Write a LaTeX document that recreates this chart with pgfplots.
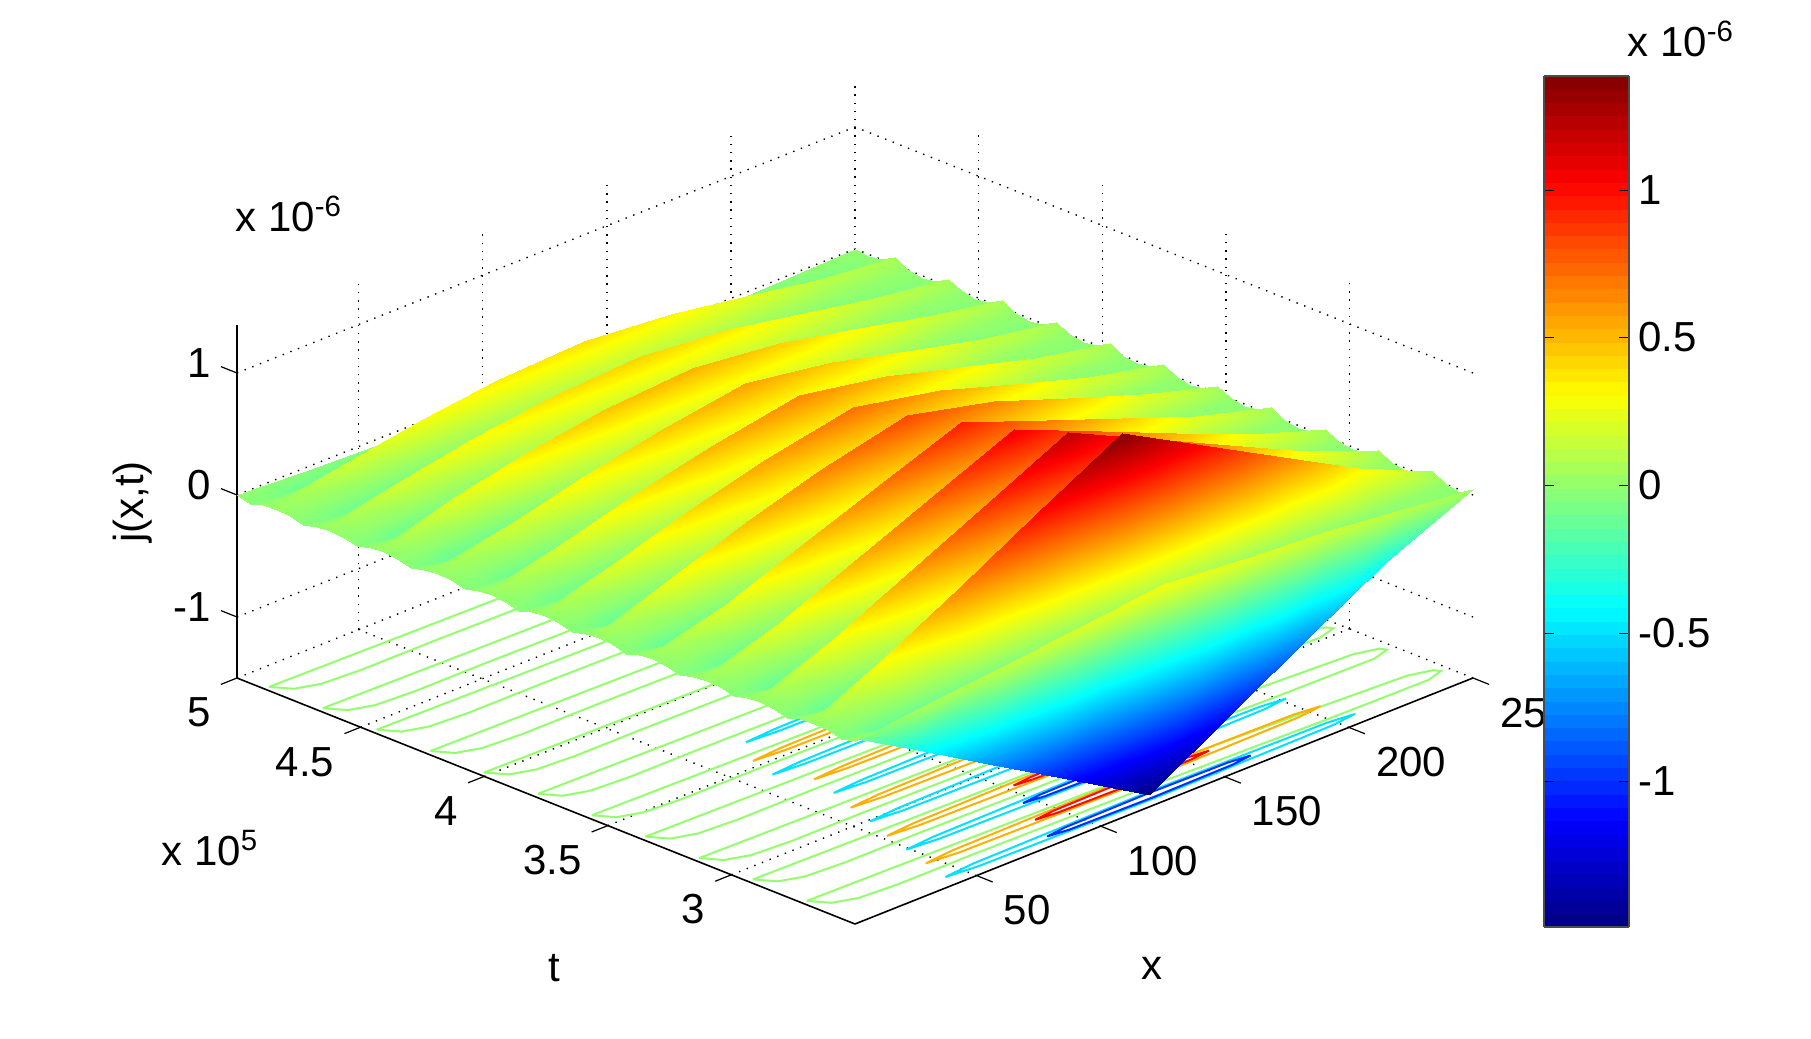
\documentclass[border=0pt]{standalone}
\usepackage{fontspec}
\setmainfont{Liberation Sans}
\usepackage{pgfplots}
\pgfplotsset{compat=1.18}

\definecolor{cz}{RGB}{147,255,108}
\definecolor{cp}{RGB}{255,176,0}
\definecolor{cr}{RGB}{255,10,0}
\definecolor{cn}{RGB}{0,226,255}
\definecolor{cb}{RGB}{0,48,255}
\tikzset{lev/.style={line width=1pt}, tk/.style={black, line width=0.6pt}}

\begin{document}
\begin{tikzpicture}
\begin{axis}[
    at={(0,0)}, anchor=south west,
    x={(1.241pt,0.494pt)}, y={(-123.6pt,49.2pt)}, z={(0pt,61pt)},
    xmin=1, xmax=250, ymin=2.5, ymax=5, zmin=-1.5, zmax=1.39,
    xtick={50,100,150,200,250},
    ytick={3,3.5,4,4.5,5},
    ztick={-1,0,1},
    scaled ticks=false,
    /pgf/number format/assume math mode=true,
    tick label style={font=\fontsize{21}{25}\selectfont},
    xticklabel style={anchor=west, xshift=5.4pt, yshift=-15.5pt},
    yticklabel style={anchor=east, xshift=-5pt, yshift=-15.5pt},
    zticklabel style={anchor=east, xshift=-5pt, yshift=3pt},
    axis line style={draw=none},
    tick style={draw=none},
    tick align=outside,
    major tick length=5pt,
    grid=major,
    grid style={black, line width=0.7pt, dash pattern=on 0.7pt off 3.4pt},
    clip=false,
    no markers,
    colormap/jet,
    point meta min=-1.495, point meta max=1.385,
    colorbar sampled,
    colorbar style={
        at={(parent axis.south east)}, anchor=south west,
        xshift=27pt, yshift=-1.5pt,
        width=42.5pt, height=425.5pt,
        samples=65,
        ytick={-1,-0.5,0,0.5,1},
        tick align=inside,
        major tick length=5pt,
        tick style={draw=black},
        ytick pos=both,
        yticklabel pos=right,
        yticklabel style={xshift=1pt},
        tick label style={font=\fontsize{21}{25}\selectfont},
        axis line style={draw=black!70, line width=0.6pt},
        /pgf/number format/assume math mode=true,
    },
]
% axis edges
\addplot3[black, line width=0.8pt, forget plot] coordinates {(1,2.5,-1.5) (250,2.5,-1.5)};
\addplot3[black, line width=0.8pt, forget plot] coordinates {(1,2.5,-1.5) (1,5,-1.5)};
\addplot3[black, line width=0.8pt, forget plot] coordinates {(1,5,-1.5) (1,5,1.39)};
% tick marks, as MATLAB turns them
\addplot3[tk] coordinates {(50,2.5,-1.5) (50,2.435,-1.5)};
\addplot3[tk] coordinates {(100,2.5,-1.5) (100,2.435,-1.5)};
\addplot3[tk] coordinates {(150,2.5,-1.5) (150,2.435,-1.5)};
\addplot3[tk] coordinates {(200,2.5,-1.5) (200,2.435,-1.5)};
\addplot3[tk] coordinates {(250,2.5,-1.5) (250,2.435,-1.5)};
\addplot3[tk] coordinates {(1,3,-1.5) (-5.5,3,-1.5)};
\addplot3[tk] coordinates {(1,3.5,-1.5) (-5.5,3.5,-1.5)};
\addplot3[tk] coordinates {(1,4,-1.5) (-5.5,4,-1.5)};
\addplot3[tk] coordinates {(1,4.5,-1.5) (-5.5,4.5,-1.5)};
\addplot3[tk] coordinates {(1,5,-1.5) (-5.5,5,-1.5)};
\addplot3[tk] coordinates {(1,5,-1) (1,5.065,-1)};
\addplot3[tk] coordinates {(1,5,0) (1,5.065,0)};
\addplot3[tk] coordinates {(1,5,1) (1,5.065,1)};

% zero contour on the floor
\addplot3[cz, lev] coordinates {(3,2.715,-1.5) (60,2.705,-1.5) (125,2.695,-1.5) (200,2.665,-1.5) (238,2.645,-1.5) (246,2.62,-1.5) (247,2.6,-1.5) (240,2.58,-1.5) (200,2.585,-1.5) (125,2.605,-1.5) (60,2.615,-1.5) (30,2.615,-1.5) (15,2.625,-1.5) (7,2.655,-1.5) (3,2.715,-1.5)};
\addplot3[cz, lev] coordinates {(3,2.933,-1.5) (60,2.923,-1.5) (125,2.913,-1.5) (200,2.883,-1.5) (238,2.863,-1.5) (246,2.838,-1.5) (247,2.818,-1.5) (240,2.798,-1.5) (200,2.803,-1.5) (125,2.823,-1.5) (60,2.833,-1.5) (30,2.833,-1.5) (15,2.843,-1.5) (7,2.873,-1.5) (3,2.933,-1.5)};
\addplot3[cz, lev] coordinates {(3,3.15,-1.5) (60,3.14,-1.5) (125,3.13,-1.5) (200,3.1,-1.5) (238,3.08,-1.5) (246,3.055,-1.5) (247,3.035,-1.5) (240,3.015,-1.5) (200,3.02,-1.5) (125,3.04,-1.5) (60,3.05,-1.5) (30,3.05,-1.5) (15,3.06,-1.5) (7,3.09,-1.5) (3,3.15,-1.5)};
\addplot3[cz, lev] coordinates {(3,3.368,-1.5) (60,3.358,-1.5) (125,3.348,-1.5) (200,3.318,-1.5) (238,3.298,-1.5) (246,3.273,-1.5) (247,3.253,-1.5) (240,3.233,-1.5) (200,3.238,-1.5) (125,3.258,-1.5) (60,3.268,-1.5) (30,3.268,-1.5) (15,3.278,-1.5) (7,3.308,-1.5) (3,3.368,-1.5)};
\addplot3[cz, lev] coordinates {(3,3.585,-1.5) (60,3.575,-1.5) (125,3.565,-1.5) (200,3.535,-1.5) (238,3.515,-1.5) (246,3.49,-1.5) (247,3.47,-1.5) (240,3.45,-1.5) (200,3.455,-1.5) (125,3.475,-1.5) (60,3.485,-1.5) (30,3.485,-1.5) (15,3.495,-1.5) (7,3.525,-1.5) (3,3.585,-1.5)};
\addplot3[cz, lev] coordinates {(3,3.803,-1.5) (60,3.793,-1.5) (125,3.783,-1.5) (200,3.753,-1.5) (238,3.733,-1.5) (246,3.708,-1.5) (247,3.688,-1.5) (240,3.668,-1.5) (200,3.673,-1.5) (125,3.693,-1.5) (60,3.703,-1.5) (30,3.703,-1.5) (15,3.713,-1.5) (7,3.743,-1.5) (3,3.803,-1.5)};
\addplot3[cz, lev] coordinates {(3,4.02,-1.5) (60,4.01,-1.5) (125,4,-1.5) (200,3.97,-1.5) (238,3.95,-1.5) (246,3.925,-1.5) (247,3.905,-1.5) (240,3.885,-1.5) (200,3.89,-1.5) (125,3.91,-1.5) (60,3.92,-1.5) (30,3.92,-1.5) (15,3.93,-1.5) (7,3.96,-1.5) (3,4.02,-1.5)};
\addplot3[cz, lev] coordinates {(3,4.238,-1.5) (60,4.228,-1.5) (125,4.218,-1.5) (200,4.188,-1.5) (238,4.168,-1.5) (246,4.143,-1.5) (247,4.123,-1.5) (240,4.103,-1.5) (200,4.108,-1.5) (125,4.128,-1.5) (60,4.138,-1.5) (30,4.138,-1.5) (15,4.148,-1.5) (7,4.178,-1.5) (3,4.238,-1.5)};
\addplot3[cz, lev] coordinates {(3,4.455,-1.5) (60,4.445,-1.5) (125,4.435,-1.5) (200,4.405,-1.5) (238,4.385,-1.5) (246,4.36,-1.5) (247,4.34,-1.5) (240,4.32,-1.5) (200,4.325,-1.5) (125,4.345,-1.5) (60,4.355,-1.5) (30,4.355,-1.5) (15,4.365,-1.5) (7,4.395,-1.5) (3,4.455,-1.5)};
\addplot3[cz, lev] coordinates {(3,4.673,-1.5) (60,4.663,-1.5) (125,4.653,-1.5) (200,4.623,-1.5) (238,4.603,-1.5) (246,4.578,-1.5) (247,4.558,-1.5) (240,4.538,-1.5) (200,4.543,-1.5) (125,4.563,-1.5) (60,4.573,-1.5) (30,4.573,-1.5) (15,4.583,-1.5) (7,4.613,-1.5) (3,4.673,-1.5)};
\addplot3[cz, lev] coordinates {(3,4.89,-1.5) (60,4.88,-1.5) (125,4.87,-1.5) (200,4.84,-1.5) (238,4.82,-1.5) (246,4.795,-1.5) (247,4.775,-1.5) (240,4.755,-1.5) (200,4.76,-1.5) (125,4.78,-1.5) (60,4.79,-1.5) (30,4.79,-1.5) (15,4.8,-1.5) (7,4.83,-1.5) (3,4.89,-1.5)};

% level -0.5
\addplot3[cn, lev] coordinates {(43,2.556,-1.5) (55,2.568,-1.5) (125,2.578,-1.5) (198,2.568,-1.5) (208,2.556,-1.5) (198,2.544,-1.5) (125,2.534,-1.5) (55,2.544,-1.5) (43,2.556,-1.5)};
\addplot3[cn, lev] coordinates {(49,2.774,-1.5) (61,2.785,-1.5) (125,2.795,-1.5) (192,2.785,-1.5) (202,2.774,-1.5) (192,2.763,-1.5) (125,2.753,-1.5) (61,2.763,-1.5) (49,2.774,-1.5)};
\addplot3[cn, lev] coordinates {(56,2.991,-1.5) (68,3.002,-1.5) (125,3.011,-1.5) (185,3.002,-1.5) (195,2.991,-1.5) (185,2.98,-1.5) (125,2.971,-1.5) (68,2.98,-1.5) (56,2.991,-1.5)};
\addplot3[cn, lev] coordinates {(63,3.209,-1.5) (75,3.219,-1.5) (125,3.227,-1.5) (177,3.219,-1.5) (187,3.209,-1.5) (177,3.199,-1.5) (125,3.191,-1.5) (75,3.199,-1.5) (63,3.209,-1.5)};
\addplot3[cn, lev] coordinates {(60,3.426,-1.5) (72,3.436,-1.5) (125,3.444,-1.5) (176,3.436,-1.5) (186,3.426,-1.5) (176,3.416,-1.5) (125,3.408,-1.5) (72,3.416,-1.5) (60,3.426,-1.5)};
\addplot3[cn, lev] coordinates {(71,3.644,-1.5) (83,3.653,-1.5) (125,3.659,-1.5) (166,3.653,-1.5) (176,3.644,-1.5) (166,3.635,-1.5) (125,3.629,-1.5) (83,3.635,-1.5) (71,3.644,-1.5)};
% level 0.5
\addplot3[cp, lev] coordinates {(46,2.665,-1.5) (58,2.677,-1.5) (125,2.687,-1.5) (195,2.677,-1.5) (205,2.665,-1.5) (195,2.653,-1.5) (125,2.643,-1.5) (58,2.653,-1.5) (46,2.665,-1.5)};
\addplot3[cp, lev] coordinates {(52,2.883,-1.5) (64,2.894,-1.5) (125,2.904,-1.5) (189,2.894,-1.5) (199,2.883,-1.5) (189,2.872,-1.5) (125,2.862,-1.5) (64,2.872,-1.5) (52,2.883,-1.5)};
\addplot3[cp, lev] coordinates {(59,3.1,-1.5) (71,3.111,-1.5) (125,3.12,-1.5) (182,3.111,-1.5) (192,3.1,-1.5) (182,3.089,-1.5) (125,3.08,-1.5) (71,3.089,-1.5) (59,3.1,-1.5)};
\addplot3[cp, lev] coordinates {(66,3.318,-1.5) (78,3.328,-1.5) (125,3.336,-1.5) (174,3.328,-1.5) (184,3.318,-1.5) (174,3.308,-1.5) (125,3.3,-1.5) (78,3.308,-1.5) (66,3.318,-1.5)};
\addplot3[cp, lev] coordinates {(63,3.535,-1.5) (75,3.545,-1.5) (125,3.552,-1.5) (173,3.545,-1.5) (183,3.535,-1.5) (173,3.525,-1.5) (125,3.518,-1.5) (75,3.525,-1.5) (63,3.535,-1.5)};
% level 1
\addplot3[cr, lev] coordinates {(90,2.665,-1.5) (98,2.674,-1.5) (125,2.679,-1.5) (152,2.674,-1.5) (160,2.665,-1.5) (152,2.656,-1.5) (125,2.651,-1.5) (98,2.656,-1.5) (90,2.665,-1.5)};
\addplot3[cr, lev] coordinates {(103,2.883,-1.5) (110,2.891,-1.5) (125,2.895,-1.5) (142,2.891,-1.5) (148,2.883,-1.5) (142,2.875,-1.5) (125,2.871,-1.5) (110,2.875,-1.5) (103,2.883,-1.5)};
% level -1
\addplot3[cb, lev] coordinates {(84,2.556,-1.5) (92,2.566,-1.5) (125,2.571,-1.5) (158,2.566,-1.5) (166,2.556,-1.5) (158,2.546,-1.5) (125,2.541,-1.5) (92,2.546,-1.5) (84,2.556,-1.5)};
\addplot3[cb, lev] coordinates {(96,2.774,-1.5) (104,2.783,-1.5) (125,2.787,-1.5) (148,2.783,-1.5) (154,2.774,-1.5) (148,2.765,-1.5) (125,2.761,-1.5) (104,2.765,-1.5) (96,2.774,-1.5)};

% j(x,t), in units of 1e-6, t in units of 1e5
\addplot3[surf, shader=interp, z buffer=reverse xy seq, mesh/rows=47, mesh/cols=10] coordinates {
(1,2.5,0) (10,2.5,0.02) (30,2.5,0.07) (60,2.5,0.13) (90,2.5,0.2) (125,2.5,0.28) (160,2.5,0.22) (190,2.5,0.18) (220,2.5,0.12) (250,2.5,0.05)
(1,2.556,-0.03) (10,2.556,-0.109) (30,2.556,-0.349) (60,2.556,-0.709) (90,2.556,-1.07) (125,2.556,-1.49) (160,2.556,-1.073) (190,2.556,-0.715) (220,2.556,-0.358) (250,2.556,-0.02)
(1,2.61,0) (10,2.61,0) (30,2.61,0) (60,2.61,0) (90,2.61,0) (125,2.61,0) (160,2.61,0) (190,2.61,0) (220,2.61,0) (250,2.61,0)
(1,2.665,0.01) (10,2.665,0.101) (30,2.665,0.325) (60,2.665,0.662) (90,2.665,0.998) (125,2.665,1.385) (160,2.665,1.001) (190,2.665,0.667) (220,2.665,0.334) (250,2.665,0.06)
(1,2.719,0) (10,2.719,0) (30,2.719,0) (60,2.719,0) (90,2.719,0) (125,2.719,0) (160,2.719,0) (190,2.719,0) (220,2.719,0) (250,2.719,0)
(1,2.774,-0.03) (10,2.774,-0.095) (30,2.774,-0.304) (60,2.774,-0.619) (90,2.774,-0.933) (125,2.774,-1.3) (160,2.774,-0.936) (190,2.774,-0.624) (220,2.774,-0.312) (250,2.774,-0.02)
(1,2.828,0) (10,2.828,0) (30,2.828,0) (60,2.828,0) (90,2.828,0) (125,2.828,0) (160,2.828,0) (190,2.828,0) (220,2.828,0) (250,2.828,0)
(1,2.883,0.01) (10,2.883,0.089) (30,2.883,0.285) (60,2.883,0.581) (90,2.883,0.876) (125,2.883,1.22) (160,2.883,0.878) (190,2.883,0.586) (220,2.883,0.293) (250,2.883,0.06)
(1,2.937,0) (10,2.937,0) (30,2.937,0) (60,2.937,0) (90,2.937,0) (125,2.937,0) (160,2.937,0) (190,2.937,0) (220,2.937,0) (250,2.937,0)
(1,2.991,-0.03) (10,2.991,-0.082) (30,2.991,-0.264) (60,2.991,-0.538) (90,2.991,-0.811) (125,2.991,-1.13) (160,2.991,-0.814) (190,2.991,-0.542) (220,2.991,-0.271) (250,2.991,-0.02)
(1,3.046,0) (10,3.046,0) (30,3.046,0) (60,3.046,0) (90,3.046,0) (125,3.046,0) (160,3.046,0) (190,3.046,0) (220,3.046,0) (250,3.046,0)
(1,3.1,0.01) (10,3.1,0.078) (30,3.1,0.25) (60,3.1,0.509) (90,3.1,0.768) (125,3.1,1.07) (160,3.1,0.77) (190,3.1,0.514) (220,3.1,0.257) (250,3.1,0.06)
(1,3.154,0) (10,3.154,0) (30,3.154,0) (60,3.154,0) (90,3.154,0) (125,3.154,0) (160,3.154,0) (190,3.154,0) (220,3.154,0) (250,3.154,0)
(1,3.209,-0.03) (10,3.209,-0.073) (30,3.209,-0.234) (60,3.209,-0.476) (90,3.209,-0.718) (125,3.209,-1) (160,3.209,-0.72) (190,3.209,-0.48) (220,3.209,-0.24) (250,3.209,-0.02)
(1,3.263,0) (10,3.263,0) (30,3.263,0) (60,3.263,0) (90,3.263,0) (125,3.263,0) (160,3.263,0) (190,3.263,0) (220,3.263,0) (250,3.263,0)
(1,3.318,0.01) (10,3.318,0.069) (30,3.318,0.222) (60,3.318,0.452) (90,3.318,0.682) (125,3.318,0.95) (160,3.318,0.684) (190,3.318,0.456) (220,3.318,0.228) (250,3.318,0.06)
(1,3.372,0) (10,3.372,0) (30,3.372,0) (60,3.372,0) (90,3.372,0) (125,3.372,0) (160,3.372,0) (190,3.372,0) (220,3.372,0) (250,3.372,0)
(1,3.426,-0.03) (10,3.426,-0.087) (30,3.426,-0.278) (60,3.426,-0.505) (90,3.426,-0.696) (125,3.426,-0.87) (160,3.426,-0.696) (190,3.426,-0.47) (220,3.426,-0.244) (250,3.426,-0.02)
(1,3.481,0) (10,3.481,0) (30,3.481,0) (60,3.481,0) (90,3.481,0) (125,3.481,0) (160,3.481,0) (190,3.481,0) (220,3.481,0) (250,3.481,0)
(1,3.535,0.01) (10,3.535,0.083) (30,3.535,0.266) (60,3.535,0.481) (90,3.535,0.664) (125,3.535,0.83) (160,3.535,0.664) (190,3.535,0.448) (220,3.535,0.232) (250,3.535,0.06)
(1,3.589,0) (10,3.589,0) (30,3.589,0) (60,3.589,0) (90,3.589,0) (125,3.589,0) (160,3.589,0) (190,3.589,0) (220,3.589,0) (250,3.589,0)
(1,3.644,-0.03) (10,3.644,-0.076) (30,3.644,-0.243) (60,3.644,-0.441) (90,3.644,-0.608) (125,3.644,-0.76) (160,3.644,-0.608) (190,3.644,-0.41) (220,3.644,-0.213) (250,3.644,-0.02)
(1,3.698,0) (10,3.698,0) (30,3.698,0) (60,3.698,0) (90,3.698,0) (125,3.698,0) (160,3.698,0) (190,3.698,0) (220,3.698,0) (250,3.698,0)
(1,3.753,0.01) (10,3.753,0.072) (30,3.753,0.23) (60,3.753,0.418) (90,3.753,0.576) (125,3.753,0.72) (160,3.753,0.576) (190,3.753,0.389) (220,3.753,0.202) (250,3.753,0.06)
(1,3.807,0) (10,3.807,0) (30,3.807,0) (60,3.807,0) (90,3.807,0) (125,3.807,0) (160,3.807,0) (190,3.807,0) (220,3.807,0) (250,3.807,0)
(1,3.861,-0.03) (10,3.861,-0.068) (30,3.861,-0.218) (60,3.861,-0.394) (90,3.861,-0.544) (125,3.861,-0.68) (160,3.861,-0.544) (190,3.861,-0.367) (220,3.861,-0.19) (250,3.861,-0.02)
(1,3.916,0) (10,3.916,0) (30,3.916,0) (60,3.916,0) (90,3.916,0) (125,3.916,0) (160,3.916,0) (190,3.916,0) (220,3.916,0) (250,3.916,0)
(1,3.97,0.01) (10,3.97,0.065) (30,3.97,0.208) (60,3.97,0.377) (90,3.97,0.52) (125,3.97,0.65) (160,3.97,0.52) (190,3.97,0.351) (220,3.97,0.182) (250,3.97,0.06)
(1,4.024,0) (10,4.024,0) (30,4.024,0) (60,4.024,0) (90,4.024,0) (125,4.024,0) (160,4.024,0) (190,4.024,0) (220,4.024,0) (250,4.024,0)
(1,4.079,-0.03) (10,4.079,-0.06) (30,4.079,-0.192) (60,4.079,-0.348) (90,4.079,-0.48) (125,4.079,-0.6) (160,4.079,-0.48) (190,4.079,-0.324) (220,4.079,-0.168) (250,4.079,-0.02)
(1,4.133,0) (10,4.133,0) (30,4.133,0) (60,4.133,0) (90,4.133,0) (125,4.133,0) (160,4.133,0) (190,4.133,0) (220,4.133,0) (250,4.133,0)
(1,4.188,0.01) (10,4.188,0.057) (30,4.188,0.182) (60,4.188,0.331) (90,4.188,0.456) (125,4.188,0.57) (160,4.188,0.456) (190,4.188,0.308) (220,4.188,0.16) (250,4.188,0.06)
(1,4.242,0) (10,4.242,0) (30,4.242,0) (60,4.242,0) (90,4.242,0) (125,4.242,0) (160,4.242,0) (190,4.242,0) (220,4.242,0) (250,4.242,0)
(1,4.296,-0.03) (10,4.296,-0.086) (30,4.296,-0.243) (60,4.296,-0.389) (90,4.296,-0.486) (125,4.296,-0.54) (160,4.296,-0.459) (190,4.296,-0.324) (220,4.296,-0.178) (250,4.296,-0.02)
(1,4.351,0) (10,4.351,0) (30,4.351,0) (60,4.351,0) (90,4.351,0) (125,4.351,0) (160,4.351,0) (190,4.351,0) (220,4.351,0) (250,4.351,0)
(1,4.405,0.01) (10,4.405,0.083) (30,4.405,0.234) (60,4.405,0.374) (90,4.405,0.468) (125,4.405,0.52) (160,4.405,0.442) (190,4.405,0.312) (220,4.405,0.172) (250,4.405,0.06)
(1,4.459,0) (10,4.459,0) (30,4.459,0) (60,4.459,0) (90,4.459,0) (125,4.459,0) (160,4.459,0) (190,4.459,0) (220,4.459,0) (250,4.459,0)
(1,4.514,-0.03) (10,4.514,-0.074) (30,4.514,-0.207) (60,4.514,-0.331) (90,4.514,-0.414) (125,4.514,-0.46) (160,4.514,-0.391) (190,4.514,-0.276) (220,4.514,-0.152) (250,4.514,-0.02)
(1,4.568,0) (10,4.568,0) (30,4.568,0) (60,4.568,0) (90,4.568,0) (125,4.568,0) (160,4.568,0) (190,4.568,0) (220,4.568,0) (250,4.568,0)
(1,4.623,0.01) (10,4.623,0.069) (30,4.623,0.194) (60,4.623,0.31) (90,4.623,0.387) (125,4.623,0.43) (160,4.623,0.366) (190,4.623,0.258) (220,4.623,0.142) (250,4.623,0.06)
(1,4.677,0) (10,4.677,0) (30,4.677,0) (60,4.677,0) (90,4.677,0) (125,4.677,0) (160,4.677,0) (190,4.677,0) (220,4.677,0) (250,4.677,0)
(1,4.731,-0.03) (10,4.731,-0.064) (30,4.731,-0.18) (60,4.731,-0.288) (90,4.731,-0.36) (125,4.731,-0.4) (160,4.731,-0.34) (190,4.731,-0.24) (220,4.731,-0.132) (250,4.731,-0.02)
(1,4.786,0) (10,4.786,0) (30,4.786,0) (60,4.786,0) (90,4.786,0) (125,4.786,0) (160,4.786,0) (190,4.786,0) (220,4.786,0) (250,4.786,0)
(1,4.84,0.01) (10,4.84,0.062) (30,4.84,0.173) (60,4.84,0.277) (90,4.84,0.347) (125,4.84,0.385) (160,4.84,0.327) (190,4.84,0.231) (220,4.84,0.127) (250,4.84,0.06)
(1,4.894,0) (10,4.894,0) (30,4.894,0) (60,4.894,0) (90,4.894,0) (125,4.894,0) (160,4.894,0) (190,4.894,0) (220,4.894,0) (250,4.894,0)
(1,4.949,-0.03) (10,4.949,-0.054) (30,4.949,-0.153) (60,4.949,-0.245) (90,4.949,-0.306) (125,4.949,-0.34) (160,4.949,-0.289) (190,4.949,-0.204) (220,4.949,-0.112) (250,4.949,-0.02)
(1,5,0) (10,5,-0.01) (30,5,-0.03) (60,5,-0.05) (90,5,-0.05) (125,5,-0.05) (160,5,-0.05) (190,5,-0.04) (220,5,-0.02) (250,5,0)
};
\end{axis}
% labels, in pixels of the reference
\begin{scope}[x=0.5pt, y=-0.5pt, shift={(-118.5pt,462pt)}]
  \path[use as bounding box] (0,0) rectangle (1811,1039);
  \tikzset{every node/.style={font=\fontsize{21}{25}\selectfont, inner sep=0pt}}
  \node[anchor=center] at (554,968) {t};
  \node[anchor=center] at (1152,968) {x};
  \node[anchor=center, rotate=90] at (133,502) {j(x,t)};
  \node[anchor=base west] at (235,232) {x 10\textsuperscript{-6}};
  \node[anchor=base west] at (161,866) {x 10\textsuperscript{5}};
  \node[anchor=base west] at (1627,57) {x 10\textsuperscript{-6}};
\end{scope}
\end{tikzpicture}
\end{document}
